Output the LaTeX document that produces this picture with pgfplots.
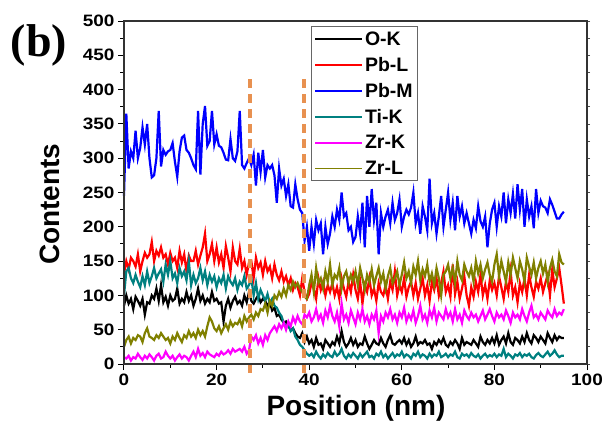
\documentclass[border=0pt]{standalone}
\usepackage{pgfplots}
\pgfplotsset{compat=1.18}
\usepackage{pgfplotstable}
\usepackage{fontspec}
\setmainfont{Liberation Sans}
\newfontfamily\tickfont[FakeStretch=1.15]{Liberation Sans}
\newfontfamily\serifb{Liberation Serif}
\definecolor{tealc}{RGB}{0,128,128}
\definecolor{olivec}{RGB}{128,128,0}
\definecolor{dashc}{RGB}{232,145,80}
\definecolor{magc}{RGB}{255,0,255}

\pgfplotstableread{
x OK PbL PbM TiK ZrK ZrL
0 85 132 245 100 10 25
0.5 100 150 365 135 8 35
1 88 138 285 140 12 40
1.5 95 155 310 125 5 30
2 80 150 300 118 10 38
2.5 98 142 340 130 8 35
3 92 160 300 120 15 42
3.5 85 135 315 112 10 40
4 95 150 345 128 6 32
4.5 72 162 320 115 12 45
5 90 155 350 135 8 52
5.5 88 160 300 118 14 40
6 100 178 272 128 10 38
6.5 95 150 275 140 5 35
7 110 165 300 125 12 42
7.5 92 158 369 132 15 38
8 115 170 288 138 8 45
8.5 90 155 312 120 10 40
9 98 160 305 145 18 35
9.5 85 145 310 130 12 38
10 100 162 312 150 8 30
10.5 92 150 322 125 12 40
11 95 155 295 132 5 35
11.5 110 140 273 118 10 45
12 88 165 310 140 14 38
12.5 95 148 330 128 8 32
13 90 160 333 135 12 42
13.5 105 135 312 122 10 38
14 92 158 308 150 5 48
14.5 100 150 300 115 12 40
15 85 150 290 130 18 45
15.5 95 165 284 118 10 38
16 110 145 369 125 22 50
16.5 92 158 276 140 12 42
17 100 170 350 122 16 48
17.5 88 190 376 135 10 40
18 95 150 318 115 18 55
18.5 90 160 325 130 14 68
19 105 175 369 120 12 62
19.5 92 150 320 128 10 52
20 95 170 335 112 15 48
20.5 88 148 318 125 12 55
21 90 160 316 118 18 45
21.5 62 140 308 130 14 52
22 85 172 298 110 16 58
22.5 95 155 297 128 20 50
23 82 135 328 120 15 62
23.5 92 170 300 115 22 55
24 98 150 296 125 18 60
24.5 88 145 310 108 20 58
25 92 168 369 120 22 65
25.5 85 140 290 115 18 55
26 100 150 285 128 25 70
26.5 90 130 293 110 15 62
27 105 148 300 115 20 68
27.5 92 150 290 125 40 72
28 88 125 305 100 35 65
28.5 95 155 260 118 42 75
29 100 140 308 95 30 70
29.5 90 148 280 108 38 80
30 95 130 312 100 28 78
30.5 92 150 272 92 42 88
31 85 135 290 102 35 75
31.5 90 142 285 88 45 92
32 78 125 290 95 50 85
32.5 82 145 275 85 55 100
33 70 130 235 82 48 95
33.5 72 122 285 75 58 105
34 65 135 260 70 52 98
34.5 60 120 270 60 60 110
35 62 128 245 55 50 100
35.5 55 115 262 58 62 115
36 50 125 230 48 55 108
36.5 52 108 228 52 68 120
37 45 118 262 40 60 112
37.5 40 112 240 35 70 118
38 38 100 225 28 62 110
38.5 45 125 220 25 58 105
39 32 105 180 20 72 98
39.5 40 95 200 15 68 95
40 30 102 165 12 75 115
40.5 35 118 200 15 62 130
41 25 110 175 10 68 105
41.5 38 95 210 18 80 140
42 28 125 195 12 65 118
42.5 30 108 205 8 72 125
43 22 120 160 14 60 110
43.5 35 100 200 10 78 135
44 30 115 175 16 68 120
44.5 25 105 190 12 85 145
45 32 118 215 10 70 115
45.5 28 100 200 18 62 130
46 40 112 225 12 75 125
46.5 30 95 210 15 55 140
47 48 125 250 22 88 110
47.5 32 110 215 12 65 128
48 25 98 220 8 72 135
48.5 30 120 195 14 60 118
49 38 105 200 10 78 130
49.5 28 130 178 16 68 120
50 35 108 185 12 58 135
50.5 25 95 215 8 75 115
51 30 120 190 15 65 140
51.5 28 88 235 10 80 125
52 40 115 170 14 62 108
52.5 30 105 245 18 70 130
53 22 125 200 10 58 120
53.5 28 100 255 12 72 138
54 35 110 210 8 65 115
54.5 30 92 235 15 78 128
55 28 118 160 12 45 140
55.5 38 105 220 18 70 120
56 30 100 200 10 62 132
56.5 25 115 215 14 75 110
57 35 95 225 8 68 128
57.5 42 120 205 12 80 140
58 30 108 235 16 65 118
58.5 28 135 210 10 72 125
59 32 100 220 14 60 135
59.5 35 115 240 12 75 115
60 30 105 200 18 68 130
60.5 38 125 215 10 82 148
61 28 98 225 14 62 125
61.5 35 112 218 12 72 135
62 25 120 228 8 65 118
62.5 30 100 250 15 78 142
63 40 118 205 12 60 130
63.5 28 95 220 18 70 150
64 32 110 190 10 85 122
64.5 30 125 230 14 65 138
65 35 100 215 12 72 128
65.5 28 115 195 8 60 145
66 30 92 270 15 78 120
66.5 22 120 205 10 68 132
67 32 108 220 14 82 115
67.5 28 125 190 12 62 140
68 35 100 215 18 75 125
68.5 30 118 245 10 70 100
69 38 135 200 12 65 130
69.5 28 105 225 15 80 135
70 25 115 250 10 68 145
70.5 32 98 210 14 75 125
71 28 145 235 12 62 140
71.5 35 102 195 18 80 118
72 30 120 245 10 65 150
72.5 22 95 215 8 72 130
73 38 110 230 15 60 122
73.5 28 128 205 12 78 145
74 32 100 220 14 70 135
74.5 30 85 205 10 65 128
75 28 112 190 16 75 140
75.5 35 98 210 12 68 120
76 30 120 198 10 72 150
76.5 25 105 230 14 62 132
77 40 130 208 8 70 145
77.5 32 100 200 12 78 125
78 28 115 215 15 65 138
78.5 35 95 170 10 72 148
79 30 122 205 13 80 130
79.5 38 108 225 11 70 120
80 30 118 235 15 62 145
80.5 42 100 200 10 75 160
81 28 128 230 14 68 128
81.5 35 112 215 12 72 150
82 40 95 250 22 65 135
82.5 30 120 205 10 78 120
83 45 105 240 15 70 148
83.5 32 135 220 12 60 130
84 28 100 248 8 75 155
84.5 38 112 212 14 68 140
85 35 90 262 12 72 125
85.5 30 118 225 16 65 150
86 40 105 255 10 80 138
86.5 32 125 200 14 70 120
87 45 100 240 12 62 155
87.5 35 130 215 15 75 142
88 30 112 230 10 85 130
88.5 42 98 198 8 68 148
89 38 120 255 13 72 125
89.5 32 110 220 16 65 140
90 40 125 238 12 75 150
90.5 35 105 230 10 70 132
91 30 118 228 14 65 145
91.5 45 130 220 18 78 120
92 38 100 240 12 72 140
92.5 32 138 232 15 68 152
93 42 112 222 20 80 135
93.5 35 125 212 14 70 128
94 40 140 212 10 75 160
94.5 38 115 218 12 72 148
95 38 88 222 12 80 145
}\datatable

\begin{document}
\begin{tikzpicture}
\useasboundingbox (-124pt,-60pt) rectangle (481pt,364pt);
\begin{axis}[
  at={(0pt,0pt)}, anchor=south west,
  scale only axis, width=463pt, height=343pt,
  xmin=0, xmax=100, ymin=0, ymax=500,
  xtick={0,20,...,100}, ytick={0,50,...,500},
  minor xtick={10,30,50,70,90}, minor ytick={25,75,...,475},
  tick align=outside, xtick pos=left, ytick pos=left,
  major tick length=6pt, minor tick length=3.5pt,
  every tick/.style={black, line width=1pt},
  axis line style={line width=1.2pt, black!80},
  /pgf/number format/assume math mode=true,
  ticklabel style={font=\tickfont\bfseries\fontsize{16.5}{16.5}\selectfont},
  xlabel={Position (nm)}, ylabel={Contents},
  label style={font=\bfseries\fontsize{28}{28}\selectfont},
  xlabel style={at={(axis description cs:0.501,-0.128)}, anchor=center},
  ylabel style={at={(axis description cs:-0.16,0.466)}, anchor=center},
  clip=false,
  legend style={at={(rel axis cs:0.404,0.985)}, anchor=north west,
    draw=black!60, line width=0.8pt, inner sep=3pt,
    font=\bfseries\fontsize{19.5}{22}\selectfont, row sep=6.5pt,
    cells={anchor=west}},
  legend image code/.code={\draw[#1,line width=1.6pt] (0pt,0pt) -- (47pt,0pt);},
]
\addplot[black, line width=2.2pt] table[x=x,y=OK]{\datatable};
\addlegendentry{O-K}
\addplot[red, line width=2.2pt] table[x=x,y=PbL]{\datatable};
\addlegendentry{Pb-L}
\addplot[blue, line width=2.2pt] table[x=x,y=PbM]{\datatable};
\addlegendentry{Pb-M}
\addplot[tealc, line width=2.2pt] table[x=x,y=TiK]{\datatable};
\addlegendentry{Ti-K}
\addplot[magc, line width=2.2pt] table[x=x,y=ZrK]{\datatable};
\addlegendentry{Zr-K}
\addplot[olivec, line width=2.2pt] table[x=x,y=ZrL]{\datatable};
\addlegendentry{Zr-L}
\addplot[dashc, line width=3.5pt, dash pattern=on 9pt off 6pt, forget plot] coordinates {(27.2,-13) (27.2,417)};
\addplot[dashc, line width=3.5pt, dash pattern=on 9pt off 6pt, forget plot] coordinates {(38.9,-13) (38.9,417)};
\end{axis}
\begin{axis}[
  at={(0pt,0pt)}, anchor=south west,
  scale only axis, width=463pt, height=343pt,
  xmin=0, xmax=100, ymin=0, ymax=500,
  xtick=\empty, ytick={0,50,...,500}, minor ytick={25,75,...,475},
  ytick pos=right, tick align=outside, yticklabels={},
  major tick length=3pt, minor tick length=3pt,
  every tick/.style={black!70, line width=0.8pt},
  axis line style={line width=1.2pt, black!80},
]
\end{axis}
\node[font=\serifb\bfseries\fontsize{46}{46}\selectfont] at (-85pt,319pt) {(b)};
\end{tikzpicture}
\end{document}
